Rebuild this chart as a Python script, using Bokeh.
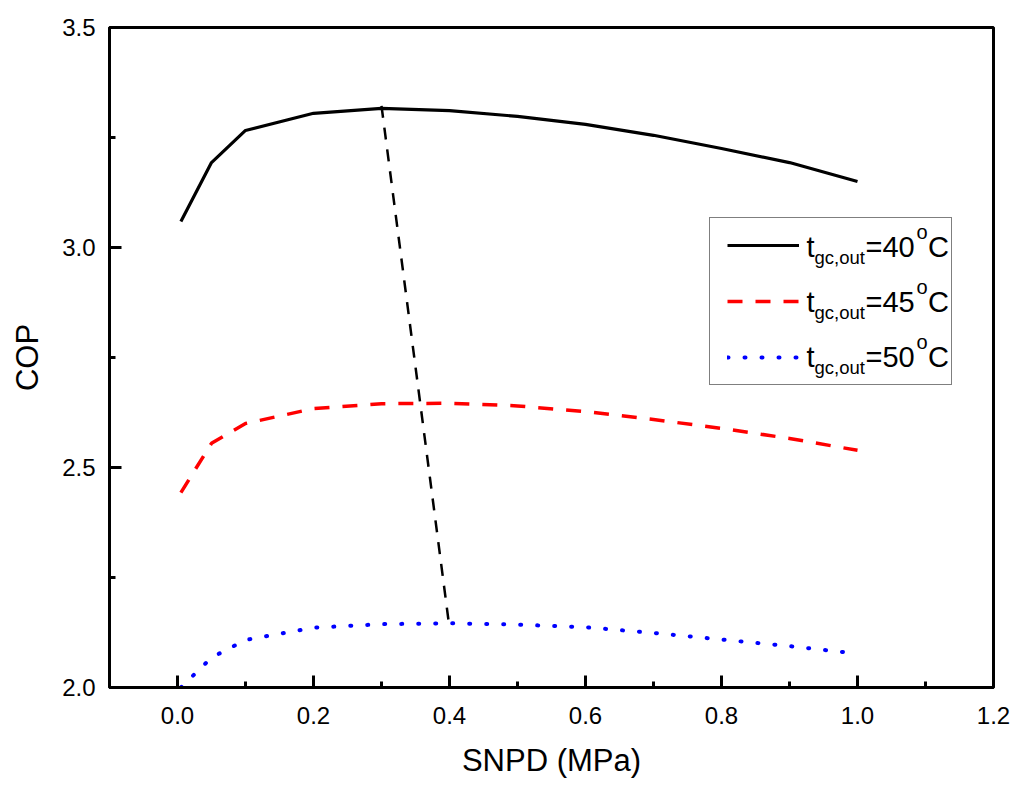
from bokeh.plotting import figure
from bokeh.models import Legend, LegendItem, Label, FixedTicker, PrintfTickFormatter
from bokeh.embed import file_html
from bokeh.resources import INLINE

# data
snpd = [0.005, 0.05, 0.1, 0.2, 0.3, 0.4, 0.5, 0.6, 0.7, 0.8, 0.9, 1.0]
cop_40 = [3.059, 3.193, 3.266, 3.305, 3.316, 3.311, 3.298, 3.280, 3.255, 3.225, 3.193, 3.150]
cop_45 = [2.443, 2.555, 2.600, 2.634, 2.645, 2.646, 2.640, 2.627, 2.609, 2.589, 2.566, 2.539]
cop_50 = [2.000, 2.068, 2.108, 2.136, 2.144, 2.146, 2.143, 2.137, 2.124, 2.109, 2.094, 2.077]

# optimum line joining the maxima
opt_x = [0.3, 0.4]
opt_y = [3.322, 2.135]

temps = ["40", "45", "50"]
x_ticks = [0.0, 0.2, 0.4, 0.6, 0.8, 1.0, 1.2]
x_minor = [0.1, 0.3, 0.5, 0.7, 0.9, 1.1]
y_ticks = [2.0, 2.5, 3.0, 3.5]
y_minor = [2.25, 2.75, 3.25]

FONT = "Liberation Sans"

p = figure(width=1016, height=786, x_range=(-0.1, 1.2), y_range=(2.0, 3.5),
           output_backend="svg", toolbar_location=None,
           min_border_left=109, min_border_right=23,
           min_border_top=27, min_border_bottom=99)

r40 = p.line(snpd, cop_40, line_color="black", line_width=3.2)
r45 = p.line(snpd, cop_45, line_color="#ff0000", line_width=3.5, line_dash="15 13")
r50 = p.line(snpd, cop_50, line_color="#0000ff", line_width=4, line_dash="1 16",
             line_cap="round")
p.line(opt_x, opt_y, line_color="black", line_width=2.5, line_dash="12 10")

# axes
p.xgrid.visible = False
p.ygrid.visible = False
p.outline_line_color = "black"
p.outline_line_width = 3
p.outline_line_alpha = 1

p.xaxis.ticker = FixedTicker(ticks=x_ticks, minor_ticks=x_minor)
p.yaxis.ticker = FixedTicker(ticks=y_ticks, minor_ticks=y_minor)
p.xaxis.formatter = PrintfTickFormatter(format="%.1f")
p.yaxis.formatter = PrintfTickFormatter(format="%.1f")
p.xaxis.axis_label = "SNPD (MPa)"
p.yaxis.axis_label = "COP"

for ax in (p.xaxis, p.yaxis):
    ax.axis_line_width = 3
    ax.axis_line_color = "black"
    ax.major_tick_in = 12
    ax.major_tick_out = 0
    ax.minor_tick_in = 6
    ax.minor_tick_out = 0
    ax.major_tick_line_width = 3
    ax.minor_tick_line_width = 3
    ax.major_tick_line_color = "black"
    ax.minor_tick_line_color = "black"
    ax.major_label_text_font = FONT
    ax.major_label_text_font_size = "24px"
    ax.major_label_text_color = "black"
    ax.axis_label_text_font = FONT
    ax.axis_label_text_font_size = "31px"
    ax.axis_label_text_font_style = "normal"
    ax.axis_label_text_color = "black"

p.xaxis.major_label_standoff = 19
p.xaxis.axis_label_standoff = 16
p.yaxis.major_label_standoff = 14
p.yaxis.axis_label_standoff = 14

# legend box with line samples (no fill, so the text labels below stay visible)
legend = Legend(items=[LegendItem(label=" ", renderers=[r]) for r in (r40, r45, r50)],
                location=(600, 302), margin=0, padding=17, spacing=36,
                glyph_width=72, glyph_height=20, label_width=135, label_height=20,
                label_standoff=0, border_line_color="black", border_line_width=1.5,
                background_fill_alpha=0, label_text_font_size="1px")
p.add_layout(legend)

leg_x = 0.925
leg_y = [3.002, 2.877, 2.752]
for t, y in zip(temps, leg_y):
    parts = [("t", 0, 0, "29px"), ("gc,out", 8, -11, "18.5px"), ("=" + t, 59, 0, "29px"),
             ("o", 110, 15, "20px"), ("C", 121.5, 0, "29px")]
    for txt, dx, dy, size in parts:
        p.add_layout(Label(x=leg_x, y=y, x_offset=dx, y_offset=dy, text=txt,
                           text_font=FONT, text_font_size=size, text_color="black",
                           text_baseline="alphabetic", text_align="left"))

open("out.html", "w").write(file_html(p, INLINE))
